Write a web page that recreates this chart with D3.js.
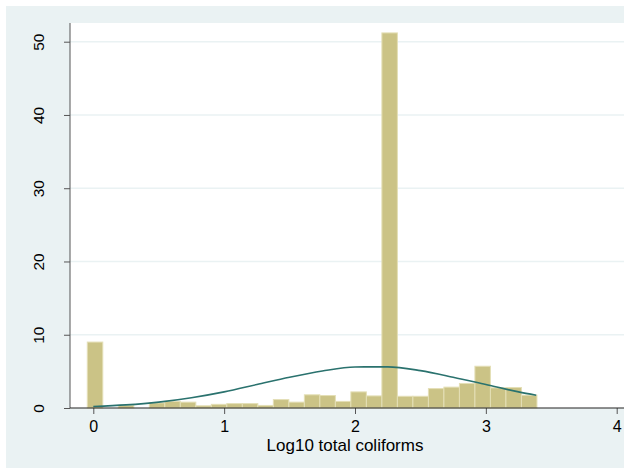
<!DOCTYPE html>
<html>
<head>
<meta charset="utf-8">
<script src="https://cdn.jsdelivr.net/npm/d3@7"></script>
<style>
  body { margin: 0; background: #fff; }
  text { font-family: Arial, "Liberation Sans", sans-serif; }
</style>
</head>
<body>
<div id="chart"></div>
<script>
// Histogram bins (percent per bin)
const binStart = -0.046;
const binWidth = 0.1185;
const percents = [9.0, 0, 0.35, 0, 0.7, 0.9, 0.8, 0.3, 0.5, 0.6,
                  0.6, 0.35, 1.15, 0.8, 1.8, 1.7, 0.9, 2.2, 1.65, 51.2,
                  1.6, 1.6, 2.65, 2.85, 3.35, 5.7, 2.75, 2.8, 1.75];

// Normal density overlay
const curveX = [0, 0.25, 0.5, 0.75, 1.0, 1.25, 1.5, 1.75, 2.0, 2.25, 2.5, 2.75, 3.0, 3.25, 3.385];
const curveY = [0.2, 0.42, 0.8, 1.4, 2.2, 3.2, 4.2, 5.05, 5.6, 5.62, 5.1, 4.2, 3.2, 2.2, 1.75];

const xTicks = [0, 1, 2, 3, 4];
const yTicks = [0, 10, 20, 30, 40, 50];
const xTitle = 'Log10 total coliforms';

const W = 624, H = 468;
const plot = {left: 70, top: 23, right: 624, bottom: 408};

const svg = d3.select('#chart').append('svg')
  .attr('width', W)
  .attr('height', H);

// Backgrounds
svg.append('rect').attr('x', 6).attr('y', 6).attr('width', W - 6).attr('height', H - 6)
  .attr('fill', '#eaf2f3');
svg.append('rect').attr('x', plot.left).attr('y', plot.top)
  .attr('width', plot.right - plot.left).attr('height', plot.bottom - plot.top)
  .attr('fill', '#fff');

// Scales
let x = d3.scaleLinear().domain([0, 4]).range([93.3, 616.7]);
let y = d3.scaleLinear().domain([0, 50]).range([408, 41.7]);

// Grid lines
svg.append('g').selectAll('line')
  .data(yTicks.filter(d => d > 0))
  .enter()
  .append('line')
  .attr('x1', plot.left).attr('x2', plot.right)
  .attr('y1', d => y(d)).attr('y2', d => y(d))
  .attr('stroke', '#eaf2f3').attr('stroke-width', 1.6);

// Bars
svg.append('g').selectAll('rect')
  .data(percents)
  .enter()
  .append('rect')
  .attr('x', (d, i) => x(binStart + i * binWidth))
  .attr('width', (d, i) => x(binStart + (i + 1) * binWidth) - x(binStart + i * binWidth))
  .attr('y', d => y(d))
  .attr('height', d => y(0) - y(d))
  .attr('fill', '#cbc386')
  .attr('stroke', '#e4dfb6')
  .attr('stroke-width', 1);

// Normal curve
let line = d3.line()
  .x(d => x(d[0]))
  .y(d => y(d[1]))
  .curve(d3.curveMonotoneX);

svg.append('path')
  .datum(curveX.map((v, i) => [v, curveY[i]]))
  .attr('d', line)
  .attr('fill', 'none')
  .attr('stroke', '#2a726e')
  .attr('stroke-width', 1.6);

// Axes
let yAxis = svg.append('g')
  .attr('transform', 'translate(' + plot.left + ',0)')
  .call(d3.axisLeft(y).tickValues(yTicks).tickSize(6).tickFormat(d3.format('d')));
yAxis.select('.domain').remove();
yAxis.selectAll('.tick line').attr('stroke', '#555');
yAxis.selectAll('.tick text')
  .attr('transform', d => 'rotate(-90)')
  .attr('x', 0)
  .attr('y', -26)
  .attr('dy', 0)
  .attr('text-anchor', 'middle')
  .style('font-size', '15.5px')
  .attr('fill', '#000');

let xAxis = svg.append('g')
  .attr('transform', 'translate(0,' + plot.bottom + ')')
  .call(d3.axisBottom(x).tickValues(xTicks).tickSize(6).tickFormat(d3.format('d')));
xAxis.select('.domain').remove();
xAxis.selectAll('.tick line').attr('stroke', '#555');
xAxis.selectAll('.tick text')
  .attr('y', 24)
  .attr('dy', 0)
  .style('font-size', '16px')
  .attr('fill', '#000');

// Axis lines
svg.append('line')
  .attr('x1', plot.left).attr('x2', plot.left)
  .attr('y1', plot.top).attr('y2', plot.bottom)
  .attr('stroke', '#555').attr('stroke-width', 1);
svg.append('line')
  .attr('x1', plot.left).attr('x2', plot.right)
  .attr('y1', plot.bottom).attr('y2', plot.bottom)
  .attr('stroke', '#222').attr('stroke-width', 1.2);

// Axis title
svg.append('text')
  .attr('x', 345)
  .attr('y', 451)
  .attr('text-anchor', 'middle')
  .style('font-size', '17px')
  .text(xTitle);
</script>
</body>
</html>
